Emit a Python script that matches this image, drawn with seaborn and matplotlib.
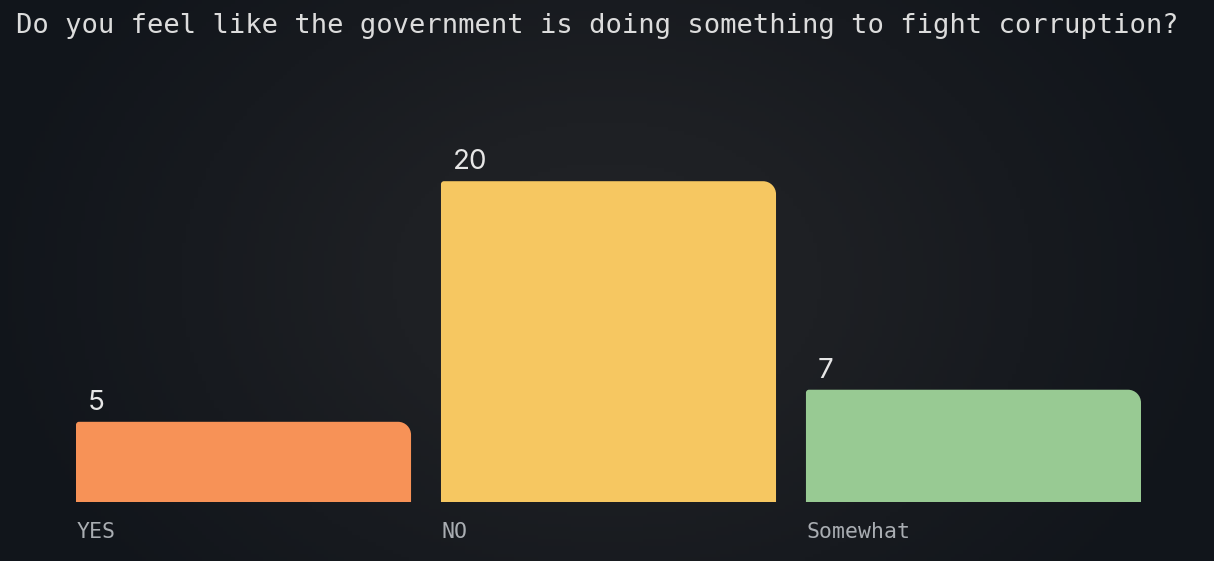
import numpy as np
import pandas as pd
import matplotlib
matplotlib.use("Agg")
import matplotlib.pyplot as plt
from matplotlib.path import Path
from matplotlib.patches import PathPatch
from matplotlib.transforms import IdentityTransform
from matplotlib.colors import LinearSegmentedColormap
import seaborn as sns

# ---- data ----
categories = ["YES", "NO", "Somewhat"]
counts = [5, 20, 7]
bar_colors = ["#F79257", "#F6C761", "#98CA93"]
title = "Do you feel like the government is doing something to fight corruption?"

sns.set_theme(style="white")
plt.rcParams["font.family"] = ["DejaVu Sans"]

W, H, DPI = 1214, 561, 100
fig = plt.figure(figsize=(W / DPI, H / DPI), dpi=DPI)
fig.patch.set_facecolor("#1a1d21")

# background vignette (center lighter, edges darker/bluish)
bg = fig.add_axes([0, 0, 1, 1], zorder=-10)
bg.axis("off")
gx = np.linspace(-1, 1, 300)
gy = np.linspace(-1, 1, 150)
GX, GY = np.meshgrid(gx, gy)
rad = np.clip(np.sqrt(GX ** 2 * 0.9 + GY ** 2 * 0.35), 0, 1)
cmap = LinearSegmentedColormap.from_list("bgc", ["#222428", "#1e2024", "#171a1f", "#11151b"])
bg.imshow(rad, aspect="auto", cmap=cmap, extent=[0, 1, 0, 1], vmin=0, vmax=1)
bg.set_xlim(0, 1); bg.set_ylim(0, 1)

ax = fig.add_axes([76 / W, 59 / H, (1141 - 76) / W, (502 - 101) / H])
ax.set_facecolor("none")
df = pd.DataFrame({"answer": categories, "count": counts})
sns.barplot(data=df, x="answer", y="count", hue="answer", palette=bar_colors,
            width=0.918, saturation=1, legend=False, ax=ax, linewidth=0)
ax.set_xlim(-0.459, 2.459)
ax.set_ylim(0, 25)
ax.axis("off")

fig.canvas.draw()
renderer = fig.canvas.get_renderer()
for p, lab, val in zip(ax.patches, categories, counts):
    bb = p.get_window_extent(renderer)
    x0, y0, x1, y1 = bb.x0, bb.y0, bb.x1, bb.y1
    rr, rl = 13, 3
    k = 0.5523
    verts = [
        (x0, y0), (x1, y0), (x1, y1 - rr),
        (x1, y1 - rr + k * rr), (x1 - rr + k * rr, y1), (x1 - rr, y1),
        (x0 + rl, y1),
        (x0 + rl - k * rl, y1), (x0, y1 - rl + k * rl), (x0, y1 - rl),
        (x0, y0),
    ]
    codes = [Path.MOVETO, Path.LINETO, Path.LINETO,
             Path.CURVE4, Path.CURVE4, Path.CURVE4,
             Path.LINETO,
             Path.CURVE4, Path.CURVE4, Path.CURVE4,
             Path.CLOSEPOLY]
    pp = PathPatch(Path(verts, codes), facecolor=p.get_facecolor(), edgecolor="none",
                   transform=IdentityTransform())
    fig.add_artist(pp)
    p.set_visible(False)
    # value label
    ax.annotate(str(val), (p.get_x(), p.get_height()), xytext=(12, 12),
                textcoords="offset pixels", ha="left", va="baseline",
                fontsize=20, color="#e6e6e6", family=["Inter", "DejaVu Sans"])
    # category label
    ax.annotate(lab, (p.get_x(), 0), xytext=(1, -36), textcoords="offset pixels",
                ha="left", va="baseline", fontsize=15.5, color="#a9adb2",
                family=["DejaVu Sans Mono"], annotation_clip=False)

fig.text(16 / W, 1 - 33 / H, title, ha="left", va="baseline", fontsize=19.5,
         color="#dcdcdc", family=["DejaVu Sans Mono"])

fig.savefig("out.png", dpi=DPI, facecolor=fig.get_facecolor())
